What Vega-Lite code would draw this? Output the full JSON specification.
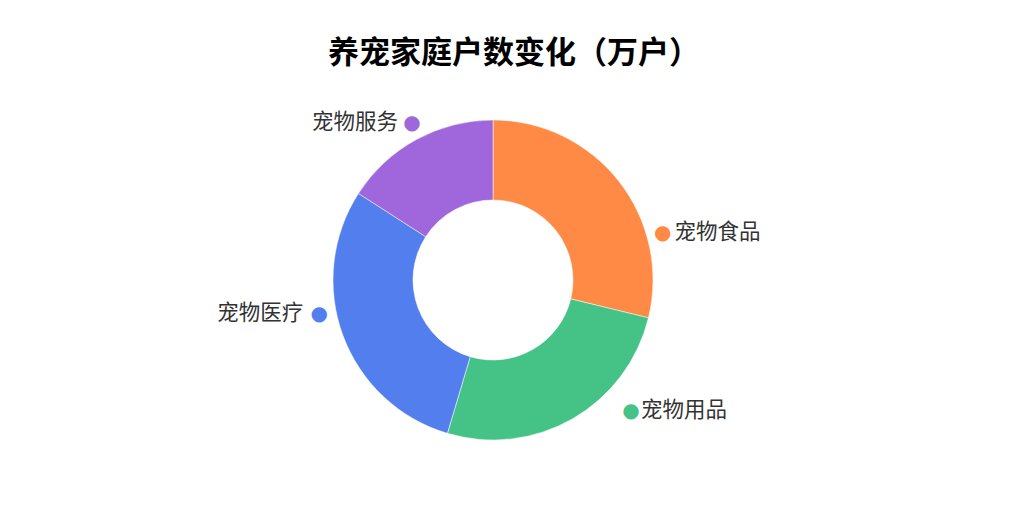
{
  "$schema": "https://vega.github.io/schema/vega-lite/v6.json",
  "autosize": "none",
  "width": 986,
  "height": 360,
  "padding": {"top": 100, "left": 0, "right": 38, "bottom": 52},
  "background": "#ffffff",
  "config": {"view": {"stroke": null}},
  "title": {
    "text": "养宠家庭户数变化（万户）",
    "font": "Noto Sans CJK SC",
    "fontSize": 31,
    "fontWeight": "bold",
    "color": "#000000",
    "anchor": "middle",
    "dx": 21,
    "offset": 24
  },
  "data": {
    "values": [
      {"cat": "宠物食品", "value": 28.8, "rank": 1},
      {"cat": "宠物用品", "value": 25.8, "rank": 2},
      {"cat": "宠物医疗", "value": 29.5, "rank": 3},
      {"cat": "宠物服务", "value": 15.9, "rank": 4}
    ]
  },
  "encoding": {
    "theta": {"field": "value", "type": "quantitative", "stack": true},
    "order": {"field": "rank", "type": "quantitative"},
    "color": {
      "field": "cat",
      "type": "nominal",
      "legend": null,
      "scale": {
        "domain": ["宠物食品", "宠物用品", "宠物医疗", "宠物服务"],
        "range": ["#FF8A45", "#45C386", "#537FEE", "#A066DB"]
      }
    }
  },
  "layer": [
    {
      "mark": {"type": "arc", "innerRadius": 80, "outerRadius": 160, "stroke": "#ffffff", "strokeWidth": 0.5}
    },
    {
      "mark": {"type": "text", "text": "●", "font": "DejaVu Sans", "fontSize": 20, "baseline": "middle", "align": "center", "radius": 176, "thetaOffset": 0.396},
      "encoding": {"opacity": {"condition": {"test": "datum.cat === '宠物食品'", "value": 1}, "value": 0}}
    },
    {
      "mark": {"type": "text", "font": "Noto Sans CJK SC", "fontSize": 21.5, "baseline": "middle", "align": "left", "dx": 12, "radius": 176, "thetaOffset": 0.396},
      "encoding": {"color": {"value": "#333333"}, "text": {"condition": {"test": "datum.cat === '宠物食品'", "field": "cat"}, "value": ""}}
    },
    {
      "mark": {"type": "text", "text": "●", "font": "DejaVu Sans", "fontSize": 20, "baseline": "middle", "align": "center", "radius": 190, "thetaOffset": -0.291},
      "encoding": {"opacity": {"condition": {"test": "datum.cat === '宠物用品'", "value": 1}, "value": 0}}
    },
    {
      "mark": {"type": "text", "font": "Noto Sans CJK SC", "fontSize": 21.5, "baseline": "middle", "align": "left", "dx": 10, "radius": 190, "thetaOffset": -0.291},
      "encoding": {"color": {"value": "#333333"}, "text": {"condition": {"test": "datum.cat === '宠物用品'", "field": "cat"}, "value": ""}}
    },
    {
      "mark": {"type": "text", "text": "●", "font": "DejaVu Sans", "fontSize": 20, "baseline": "middle", "align": "center", "radius": 177, "thetaOffset": 0.161},
      "encoding": {"opacity": {"condition": {"test": "datum.cat === '宠物医疗'", "value": 1}, "value": 0}}
    },
    {
      "mark": {"type": "text", "font": "Noto Sans CJK SC", "fontSize": 21.5, "baseline": "middle", "align": "right", "dx": -16, "radius": 177, "thetaOffset": 0.161},
      "encoding": {"color": {"value": "#333333"}, "text": {"condition": {"test": "datum.cat === '宠物医疗'", "field": "cat"}, "value": ""}}
    },
    {
      "mark": {"type": "text", "text": "●", "font": "DejaVu Sans", "fontSize": 20, "baseline": "middle", "align": "center", "radius": 177, "thetaOffset": 0.024},
      "encoding": {"opacity": {"condition": {"test": "datum.cat === '宠物服务'", "value": 1}, "value": 0}}
    },
    {
      "mark": {"type": "text", "font": "Noto Sans CJK SC", "fontSize": 21.5, "baseline": "middle", "align": "right", "dx": -14, "radius": 177, "thetaOffset": 0.024},
      "encoding": {"color": {"value": "#333333"}, "text": {"condition": {"test": "datum.cat === '宠物服务'", "field": "cat"}, "value": ""}}
    }
  ]
}
